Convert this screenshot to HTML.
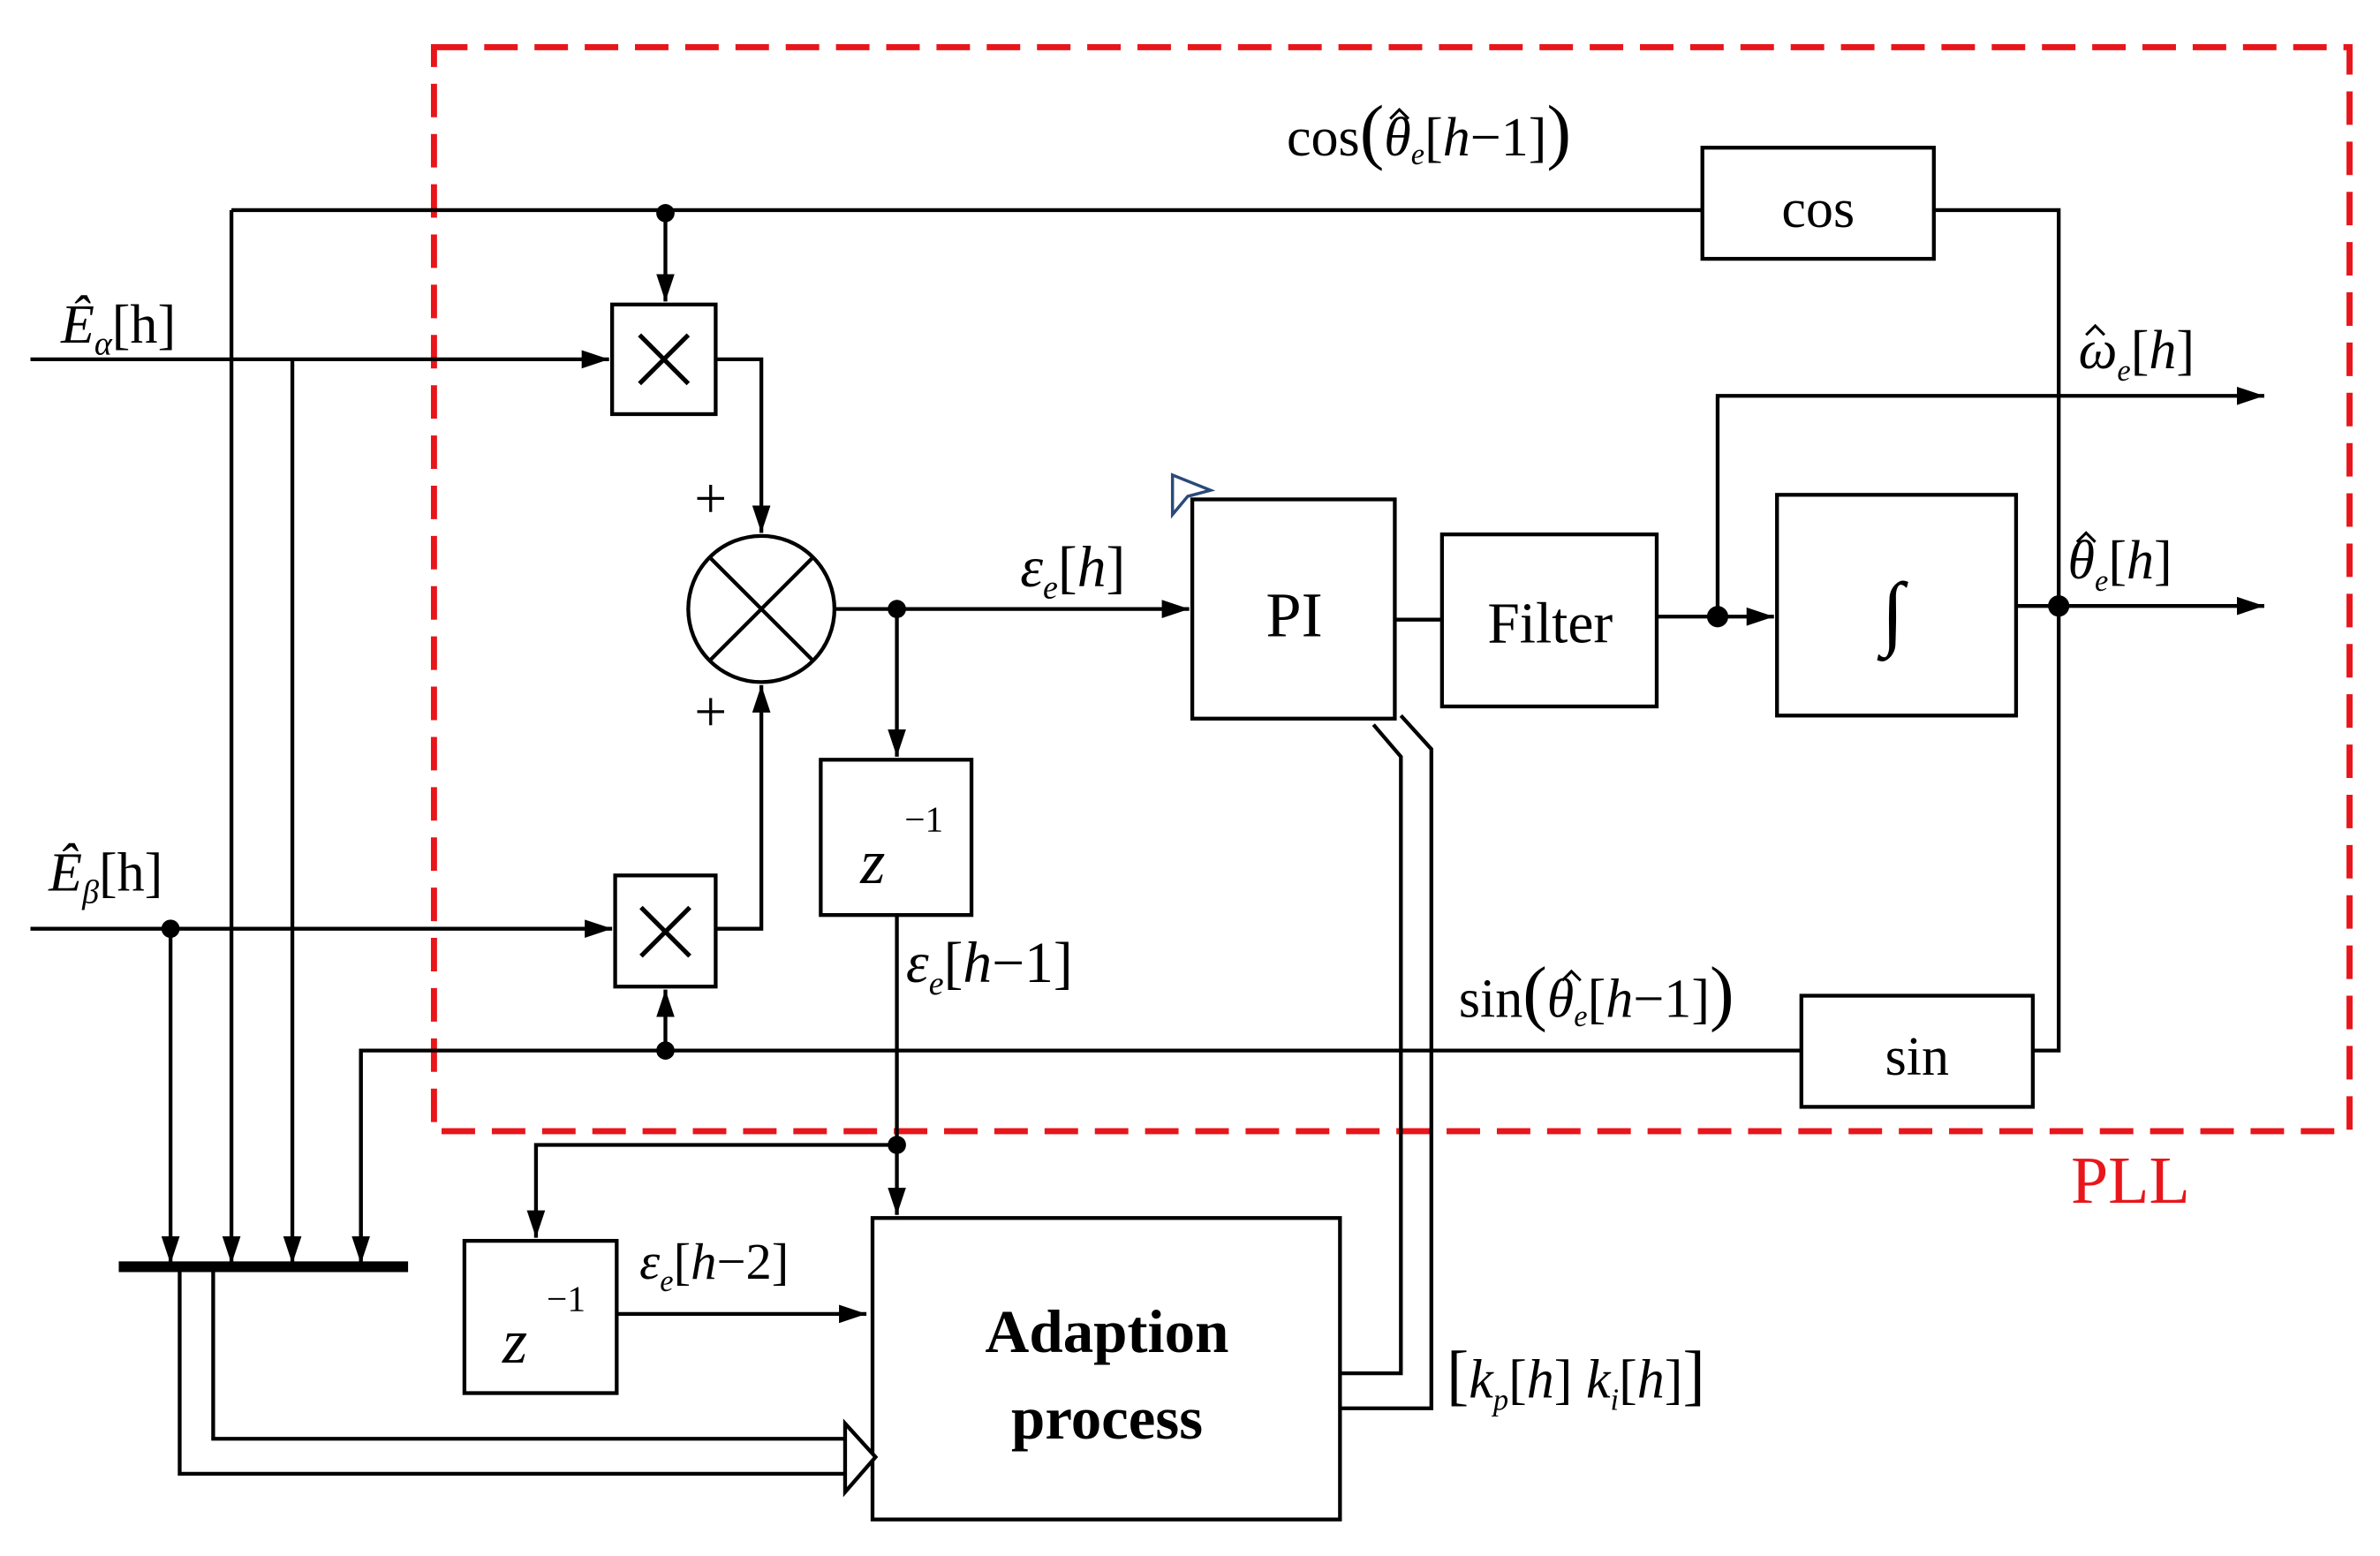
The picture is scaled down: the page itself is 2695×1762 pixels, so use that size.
<!DOCTYPE html>
<html><head><meta charset="utf-8"><style>
html,body{margin:0;padding:0;background:#fff}
svg{display:block}
text{font-family:"Liberation Serif",serif;fill:#000}
.i{font-style:italic}
</style></head><body>
<svg width="2695" height="1762" viewBox="0 0 1563 1022" preserveAspectRatio="none" xmlns="http://www.w3.org/2000/svg">
<defs>
<marker id="a" markerWidth="20" markerHeight="14" refX="18" refY="7" orient="auto" markerUnits="userSpaceOnUse">
<path d="M0,1 L18,7 L0,13 z" fill="#000"/>
</marker>
</defs>
<g stroke="#000" stroke-width="2.5" fill="none">
<rect x="285" y="31" width="1258" height="712" stroke="#e8161b" stroke-width="4" stroke-dasharray="22,11"/>
<rect x="1118" y="97" width="152" height="73"/>
<rect x="402" y="200" width="68" height="72"/>
<rect x="404" y="575" width="66" height="73"/>
<rect x="539" y="499" width="99" height="102"/>
<rect x="305" y="815" width="100" height="100"/>
<rect x="573" y="800" width="307" height="198"/>
<rect x="783" y="328" width="133" height="144"/>
<rect x="947" y="351" width="141" height="113"/>
<rect x="1167" y="325" width="157" height="145"/>
<rect x="1183" y="654" width="152" height="73"/>
<circle cx="500" cy="400" r="48"/>
<path d="M466,366 L534,434 M534,366 L466,434"/>
<path d="M420,220 L452,252 M452,220 L420,252 M421,596 L453,628 M453,596 L421,628" stroke-width="3"/>
<path d="M152,138 H1118 M1270,138 H1352 V690 H1335"/>
<path d="M437,140 V198" marker-end="url(#a)"/>
<path d="M20,236 H400" marker-end="url(#a)"/>
<path d="M152,138 V830" marker-end="url(#a)"/>
<path d="M192,236 V830" marker-end="url(#a)"/>
<path d="M470,236 H500 V350" marker-end="url(#a)"/>
<path d="M20,610 H402" marker-end="url(#a)"/>
<path d="M112,610 V830" marker-end="url(#a)"/>
<path d="M470,610 H500 V450" marker-end="url(#a)"/>
<path d="M237,828 V690 H1183"/>
<path d="M237,690 V830" marker-end="url(#a)"/>
<path d="M437,690 V650" marker-end="url(#a)"/>
<path d="M78,832 H268" stroke-width="7"/>
<path d="M548,400 H781" marker-end="url(#a)"/>
<path d="M589,400 V497" marker-end="url(#a)"/>
<path d="M589,601 V798" marker-end="url(#a)"/>
<path d="M589,752 H352 V813" marker-end="url(#a)"/>
<path d="M405,863 H569" marker-end="url(#a)"/>
<path d="M916,407 H947"/>
<path d="M1088,405 H1165" marker-end="url(#a)"/>
<path d="M1128,405 V260 H1487" marker-end="url(#a)"/>
<path d="M1324,398 H1487" marker-end="url(#a)"/>
<path d="M880,902 H920 V497 L902,476"/>
<path d="M880,925 H940 V492 L920,470"/>
<path d="M118,835 V968 H557 M140,835 V945 H557"/>
<path d="M555,935 L575,957 L555,980 Z" fill="#fff"/>
<path d="M770,312 L770,338 L780,326 L795,322 Z" stroke="#2a4a7a" stroke-width="2"/>
</g>
<g fill="#000">
<circle cx="437" cy="140" r="6"/><circle cx="112" cy="610" r="6"/><circle cx="437" cy="690" r="6"/>
<circle cx="589" cy="400" r="6"/><circle cx="589" cy="752" r="6"/><circle cx="1128" cy="405" r="7"/><circle cx="1352" cy="398" r="7"/>
</g>
<text x="1360" y="790" font-size="44" style="fill:#e8161b">PLL</text>
<text x="1194" y="149" font-size="36" text-anchor="middle">cos</text>
<text x="1259" y="706" font-size="36" text-anchor="middle">sin</text>
<text x="850" y="418" font-size="42" text-anchor="middle">PI</text>
<text x="1018" y="422" font-size="38" text-anchor="middle">Filter</text>
<text x="1243" y="420" font-size="54" text-anchor="middle">∫</text>
<text x="727" y="888" font-size="40" font-weight="bold" text-anchor="middle">Adaption</text>
<text x="727" y="945" font-size="40" font-weight="bold" text-anchor="middle">process</text>
<text x="456" y="340" font-size="38">+</text>
<text x="456" y="480" font-size="38">+</text>
<text x="40" y="225" font-size="36"><tspan class="i">Ê</tspan><tspan font-size="22" dy="8" class="i">α</tspan><tspan dy="-8">[h]</tspan></text>
<text x="32" y="585" font-size="36"><tspan class="i">Ê</tspan><tspan font-size="22" dy="8" class="i">β</tspan><tspan dy="-8">[h]</tspan></text>
<text x="845" y="102" font-size="36">cos<tspan font-size="48">(</tspan><tspan class="i">θ</tspan><tspan font-size="20" dy="6" class="i">e</tspan><tspan dy="-6">[</tspan><tspan class="i">h</tspan>−1]<tspan font-size="48">)</tspan></text>
<text x="958" y="668" font-size="36">sin<tspan font-size="48">(</tspan><tspan class="i">θ</tspan><tspan font-size="20" dy="6" class="i">e</tspan><tspan dy="-6">[</tspan><tspan class="i">h</tspan>−1]<tspan font-size="48">)</tspan></text>
<text x="670" y="385" font-size="38"><tspan class="i">ε</tspan><tspan font-size="22" dy="8" class="i">e</tspan><tspan dy="-8">[</tspan><tspan class="i">h</tspan>]</text>
<text x="595" y="645" font-size="38"><tspan class="i">ε</tspan><tspan font-size="22" dy="8" class="i">e</tspan><tspan dy="-8">[</tspan><tspan class="i">h</tspan>−1]</text>
<text x="420" y="840" font-size="34"><tspan class="i">ε</tspan><tspan font-size="20" dy="8" class="i">e</tspan><tspan dy="-8">[</tspan><tspan class="i">h</tspan>−2]</text>
<text x="1365" y="242" font-size="36"><tspan class="i">ω</tspan><tspan font-size="20" dy="8" class="i">e</tspan><tspan dy="-8">[</tspan><tspan class="i">h</tspan>]</text>
<text x="1358" y="380" font-size="36"><tspan class="i">θ</tspan><tspan font-size="20" dy="8" class="i">e</tspan><tspan dy="-8">[</tspan><tspan class="i">h</tspan>]</text>
<g stroke="#000" stroke-width="1.8" fill="none">
<path d="M913,78 L919,72 L925,78"/>
<path d="M1026,644 L1032,638 L1038,644"/>
<path d="M1370,220 L1376,214 L1382,220"/>
<path d="M1364,356 L1370,350 L1376,356"/>
</g>
<text x="565" y="580" font-size="42" class="i">z</text><text x="594" y="546" font-size="24">−1</text>
<text x="330" y="895" font-size="42" class="i">z</text><text x="359" y="861" font-size="24">−1</text>
<text x="950" y="918" font-size="36"><tspan font-size="44">[</tspan><tspan class="i">k</tspan><tspan font-size="20" dy="8" class="i">p</tspan><tspan dy="-8">[</tspan><tspan class="i">h</tspan>] <tspan class="i">k</tspan><tspan font-size="20" dy="8" class="i">i</tspan><tspan dy="-8">[</tspan><tspan class="i">h</tspan>]<tspan font-size="44">]</tspan></text>
</svg>
</body></html>
